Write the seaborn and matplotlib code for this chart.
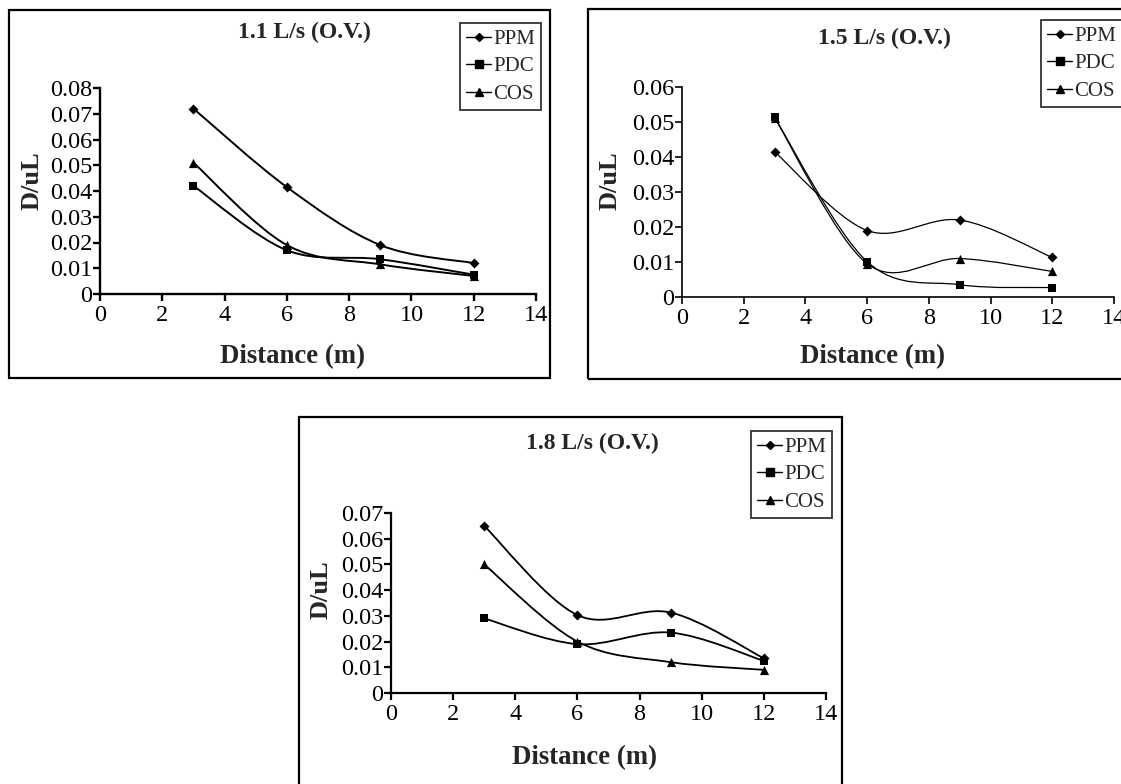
import numpy as np
import pandas as pd
import matplotlib
matplotlib.use('Agg')
import matplotlib.pyplot as plt
import seaborn as sns
from matplotlib.path import Path
from matplotlib.patches import PathPatch, Rectangle
from matplotlib.lines import Line2D

# Data (D/uL vs distance, three flow rates)
distance = [3, 6, 9, 12]
series = ['PPM', 'PDC', 'COS']

ppm_11 = [0.072, 0.0415, 0.019, 0.012]
pdc_11 = [0.042, 0.017, 0.0135, 0.0075]
cos_11 = [0.051, 0.019, 0.0115, 0.007]

ppm_15 = [0.0415, 0.019, 0.022, 0.0113]
pdc_15 = [0.0513, 0.0101, 0.0035, 0.0027]
cos_15 = [0.0512, 0.0095, 0.011, 0.0073]

ppm_18 = [0.065, 0.0303, 0.0313, 0.0135]
pdc_18 = [0.029, 0.019, 0.0235, 0.0125]
cos_18 = [0.050, 0.020, 0.012, 0.009]

titles = ['1.1 L/s (O.V.)', '1.5 L/s (O.V.)', '1.8 L/s (O.V.)']
y_max = [0.08, 0.06, 0.07]
x_ticks = [0, 2, 4, 6, 8, 10, 12, 14]

sns.set_style('ticks')
plt.rcParams['font.family'] = ['Liberation Serif', 'DejaVu Serif']

W, H = 1121, 784
fig = plt.figure(figsize=(W / 100, H / 100), dpi=100)


def px_rect(l, t, r, b):
    return [l / W, 1 - b / H, (r - l) / W, (b - t) / H]


def smooth_path(x, y):
    # Excel-style smoothed line (Catmull-Rom as cubic Bezier)
    pts = np.column_stack([x, y]).astype(float)
    p = np.vstack([pts[0], pts, pts[-1]])
    verts = [pts[0]]
    codes = [Path.MOVETO]
    for i in range(1, len(p) - 2):
        verts += [p[i] + (p[i + 1] - p[i - 1]) / 6,
                  p[i + 1] - (p[i + 2] - p[i]) / 6,
                  p[i + 1]]
        codes += [Path.CURVE4] * 3
    return Path(verts, codes)


markers = {'PPM': 'D', 'PDC': 's', 'COS': '^'}
sizes = {'PPM': 26, 'PDC': 36, 'COS': 44}

panels = [
    dict(vals=[ppm_11, pdc_11, cos_11], ax=(100, 88, 536, 294), frame=(9, 10, 550, 378),
         title=(304, 32), ylab=(32, 181), xlab=(293, 357), leg=(460, 23), lw=1.4),
    dict(vals=[ppm_15, pdc_15, cos_15], ax=(682, 87, 1114, 297), frame=(588, 9, 1135, 379),
         title=(884, 38), ylab=(610, 181), xlab=(872, 357), leg=(1041, 20), lw=0.9),
    dict(vals=[ppm_18, pdc_18, cos_18], ax=(391, 513, 826, 693), frame=(299, 417, 842, 800),
         title=(592, 443), ylab=(321, 590), xlab=(584, 758), leg=(751, 431), lw=1.3),
]

for i, pn in enumerate(panels):
    ax = fig.add_axes(px_rect(*pn['ax']))
    df = pd.DataFrame({
        'Distance': distance * 3,
        'D/uL': pn['vals'][0] + pn['vals'][1] + pn['vals'][2],
        'Series': [s for s in series for _ in distance],
    })
    for s, v in zip(series, pn['vals']):
        ax.add_patch(PathPatch(smooth_path(distance, v), fill=False,
                               edgecolor='black', lw=pn['lw']))
    for s in series:
        sns.scatterplot(data=df[df.Series == s], x='Distance', y='D/uL',
                        marker=markers[s], s=sizes[s], color='black',
                        edgecolor='black', linewidth=0, legend=False, ax=ax)

    ax.set_xlim(0, 14)
    ax.set_ylim(0, y_max[i])
    ax.set_xticks(x_ticks)
    yt = np.round(np.arange(0, y_max[i] + 0.001, 0.01), 2)
    ax.set_yticks(yt)
    ax.set_yticklabels(['{:g}'.format(v) for v in yt])
    ax.set_xlabel('')
    ax.set_ylabel('')
    sns.despine(ax=ax)
    for sp in ['left', 'bottom']:
        ax.spines[sp].set_linewidth(pn['lw'] + 0.3)
        ax.spines[sp].set_color('black')
    ax.tick_params(axis='both', labelsize=17.5, length=5, width=pn['lw'] + 0.3,
                   color='black', labelcolor='black')
    ax.tick_params(axis='y', pad=0.5)
    ax.tick_params(axis='x', pad=3)
    ax.patch.set_alpha(0)

    fig.text(pn['title'][0] / W, 1 - pn['title'][1] / H, titles[i], ha='center', va='center',
             fontsize=17, fontweight='bold')
    fig.text(pn['ylab'][0] / W, 1 - pn['ylab'][1] / H, 'D/uL', ha='center', va='center',
             rotation=90, fontsize=19, fontweight='bold')
    fig.text(pn['xlab'][0] / W, 1 - pn['xlab'][1] / H, 'Distance (m)', ha='center', va='center',
             fontsize=19.3, fontweight='bold')

    handles = [Line2D([], [], color='black', lw=1.0, marker=markers[s],
                      markersize=np.sqrt(sizes[s]) * 0.85) for s in series]
    leg = ax.legend(handles, series, loc='upper left',
                    bbox_to_anchor=(pn['leg'][0] / W, 1 - pn['leg'][1] / H),
                    bbox_transform=fig.transFigure, frameon=True, fancybox=False,
                    edgecolor='black', fontsize=15, handlelength=1.2, handletextpad=0.1,
                    borderpad=0.3, labelspacing=0.38, borderaxespad=0)
    leg.get_frame().set_linewidth(1.3)

    fl, ft, fr, fb = pn['frame']
    fig.patches.append(Rectangle((fl / W, 1 - fb / H), (fr - fl) / W, (fb - ft) / H,
                                 transform=fig.transFigure, fill=False,
                                 edgecolor='black', lw=1.6))

fig.savefig('out.png', dpi=100)
